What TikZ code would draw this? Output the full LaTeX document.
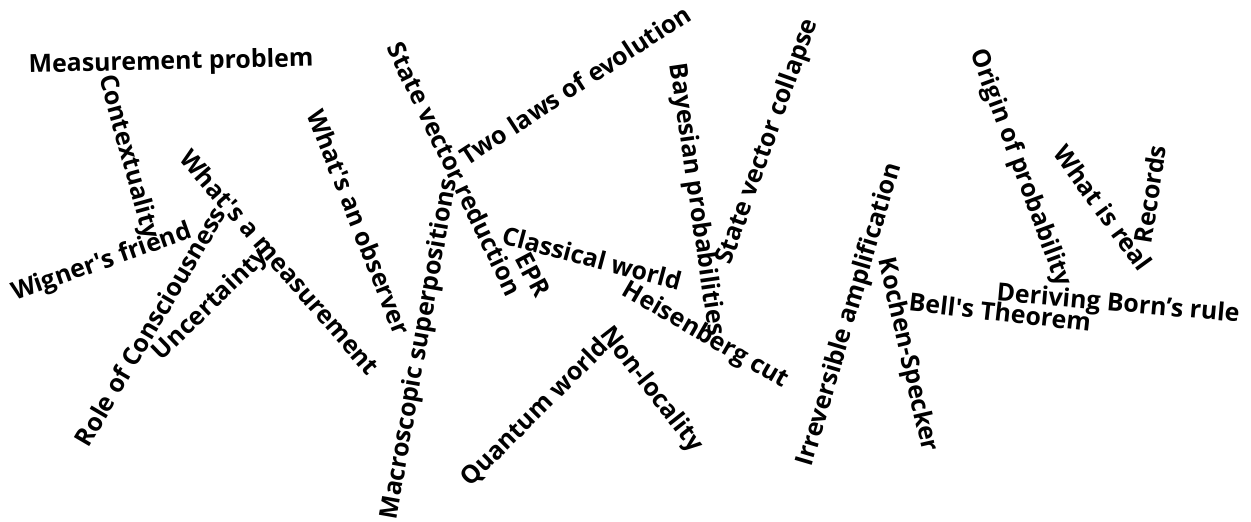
\documentclass[tikz,border=0pt]{standalone}
\usepackage{fontspec}
\setmainfont{Open Sans}
\begin{document}
\begin{tikzpicture}[x=1pt,y=-1pt,
  word/.style={inner sep=0pt,anchor=center,font=\fontsize{24.9}{29}\selectfont\bfseries}]
\useasboundingbox (0,0) rectangle (1251,522);
\node[word,rotate=1.3]   (mp)  at (171,63)  {Measurement problem};
\node[word,rotate=-74.5] (ctx) at (128,157) {Contextuality};
\node[word,rotate=19.5]  (wf)  at (102,263) {Wigner\textquotesingle s friend};
\node[word,rotate=59.5]  (rc)  at (150,326) {Role of Consciousness};
\node[word,rotate=-48.8] (wam) at (280,262) {What\textquotesingle s a measurement};
\node[word,rotate=44]    (unc) at (211,305) {Uncertainty};
\node[word,rotate=-68.4] (wao) at (359,222) {What\textquotesingle s an observer};
\node[word,rotate=80]    (ms)  at (420,349) {Macroscopic superpositions};
\node[word,rotate=-64.2] (svr) at (455,169) {State vector reduction};
\node[word,rotate=33]    (tle) at (575,85)  {Two laws of evolution};
\node[word,rotate=-15]   (cw)  at (592,258) {Classical world};
\node[word,rotate=-62]   (epr) at (533,275) {EPR};
\node[word,rotate=-30]   (hc)  at (705,336) {Heisenberg cut};
\node[word,rotate=-81.7] (bp)  at (696,200) {Bayesian probabilities};
\node[word,rotate=70.4]  (svc) at (768,142) {State vector collapse};
\node[word,rotate=-52]   (nl)  at (651,390) {Non-locality};
\node[word,rotate=45]    (qw)  at (535,413) {Quantum world};
\node[word,rotate=73.5]  (ia)  at (850,315) {Irreversible amplification};
\node[word,rotate=-77]   (ks)  at (907,355) {Kochen-Specker};
\node[word,rotate=-6.5]  (bt)  at (1000,312) {Bell\textquotesingle s Theorem};
\node[word,rotate=-5]    (dbr) at (1118,305) {Deriving Born’s rule};
\node[word,rotate=-69.6] (op)  at (1020,168) {Origin of probability};
\node[word,rotate=-54]   (wir) at (1103,208) {What is real};
\node[word,rotate=81]    (rec) at (1150,194) {Records};
\end{tikzpicture}
\end{document}
